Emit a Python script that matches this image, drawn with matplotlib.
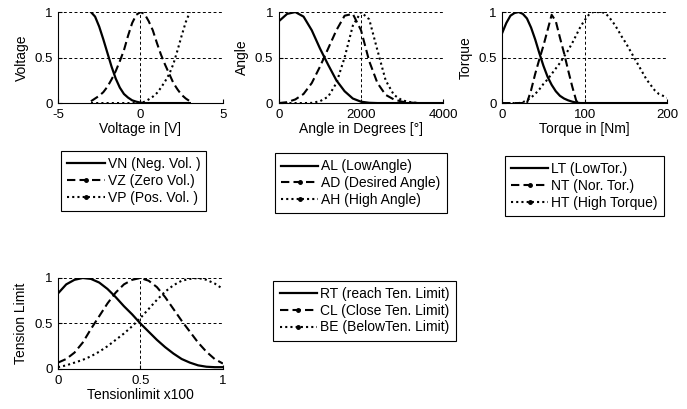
import matplotlib
matplotlib.use("Agg")
import matplotlib.pyplot as plt
from matplotlib.lines import Line2D

plt.rcParams['font.family'] = ['Liberation Sans', 'DejaVu Sans']
plt.rcParams['axes.unicode_minus'] = False

# voltage
volt_x = [-3.0, -2.75, -2.5, -2.25, -2.0, -1.75, -1.5, -1.25, -1.0, -0.75, -0.5, -0.25,
          0.0, 0.25, 0.5, 0.75, 1.0, 1.25, 1.5, 1.75, 2.0, 2.25, 2.5, 2.75, 3.0]
vn = [1.0, 0.95, 0.84, 0.70, 0.55, 0.40, 0.27, 0.17, 0.10, 0.06, 0.03, 0.015,
      0.005, 0, 0, 0, 0, 0, 0, 0, 0, 0, 0, 0, 0]
vz = [0.02, 0.05, 0.08, 0.12, 0.18, 0.26, 0.35, 0.46, 0.58, 0.74, 0.88, 0.97,
      1.0, 0.98, 0.90, 0.80, 0.66, 0.53, 0.42, 0.32, 0.22, 0.15, 0.09, 0.05, 0.02]
vp = [0, 0, 0, 0, 0, 0, 0, 0, 0, 0, 0, 0,
      0, 0.015, 0.04, 0.07, 0.11, 0.17, 0.24, 0.32, 0.43, 0.58, 0.74, 0.89, 1.0]

# angle
ang_x = [0, 200, 400, 600, 800, 1000, 1200, 1400, 1600, 1800, 2000, 2200, 2400,
         2600, 2800, 3000, 3200, 3400, 3600, 3800, 4000]
al = [0.90, 0.98, 1.0, 0.95, 0.80, 0.60, 0.42, 0.25, 0.13, 0.05, 0.015, 0.003, 0,
      0, 0, 0, 0, 0, 0, 0, 0]
ad = [0.0, 0.01, 0.04, 0.10, 0.22, 0.40, 0.60, 0.80, 0.96, 0.98, 0.80, 0.46, 0.22,
      0.09, 0.04, 0.015, 0.005, 0, 0, 0, 0]
ah = [0, 0, 0, 0, 0.002, 0.02, 0.07, 0.22, 0.50, 0.85, 1.0, 0.92, 0.58,
      0.25, 0.09, 0.03, 0.01, 0, 0, 0, 0]

# torque
torq_x = [0, 5, 10, 15, 20, 25, 30, 35, 40, 45, 50, 55, 60, 65, 70, 75, 80, 85, 90, 95,
          100, 105, 110, 115, 120, 125, 130, 135, 140, 145, 150, 155, 160, 165, 170,
          175, 180, 185, 190, 195, 200]
lt = [0.77, 0.88, 0.96, 0.99, 1.0, 0.98, 0.93, 0.83, 0.70, 0.55, 0.41, 0.29, 0.20,
      0.13, 0.08, 0.05, 0.03, 0.015, 0.005, 0,
      0, 0, 0, 0, 0, 0, 0, 0, 0, 0, 0, 0, 0, 0, 0, 0, 0, 0, 0, 0, 0]
nt = [0, 0, 0, 0, 0, 0, 0.0, 0.14, 0.32, 0.48, 0.63, 0.80, 0.97, 0.90, 0.72, 0.55,
      0.36, 0.18, 0.02, 0,
      0, 0, 0, 0, 0, 0, 0, 0, 0, 0, 0, 0, 0, 0, 0, 0, 0, 0, 0, 0, 0]
ht = [0, 0, 0, 0, 0, 0.01, 0.03, 0.06, 0.10, 0.15, 0.21, 0.26, 0.32, 0.38, 0.44, 0.51,
      0.58, 0.66, 0.75, 0.84, 0.91, 0.97, 1.0, 1.0, 1.0, 0.99, 0.94, 0.88, 0.81, 0.73,
      0.66, 0.58, 0.50, 0.42, 0.34, 0.26, 0.20, 0.14, 0.10, 0.08, 0.06]

# tension limit
ten_x = [0, 0.05, 0.1, 0.15, 0.2, 0.25, 0.3, 0.35, 0.4, 0.45, 0.5, 0.55, 0.6, 0.65,
         0.7, 0.75, 0.8, 0.85, 0.9, 0.95, 1.0]
rt = [0.83, 0.93, 0.98, 1.0, 0.99, 0.95, 0.88, 0.79, 0.69, 0.60, 0.50, 0.41, 0.32,
      0.24, 0.17, 0.11, 0.07, 0.04, 0.025, 0.02, 0.02]
cl = [0.07, 0.11, 0.18, 0.29, 0.44, 0.58, 0.72, 0.84, 0.93, 0.98, 1.0, 0.97, 0.90,
      0.79, 0.66, 0.53, 0.41, 0.29, 0.19, 0.11, 0.06]
be = [0.02, 0.04, 0.07, 0.10, 0.14, 0.19, 0.25, 0.32, 0.39, 0.47, 0.56, 0.66, 0.76,
      0.85, 0.92, 0.97, 0.99, 1.0, 0.98, 0.94, 0.88]

panels = [
    (volt_x, [vn, vz, vp], [-5, 0, 5], ['-5', '0', '5'], 'Voltage in [V]', 'Voltage',
     ['VN (Neg. Vol. )', 'VZ (Zero Vol.)', 'VP (Pos. Vol. )']),
    (ang_x, [al, ad, ah], [0, 2000, 4000], ['0', '2000', '4000'], 'Angle in Degrees [°]', 'Angle',
     ['AL (LowAngle)', 'AD (Desired Angle)', 'AH (High Angle)']),
    (torq_x, [lt, nt, ht], [0, 100, 200], ['0', '100', '200'], 'Torque in [Nm]', 'Torque',
     ['LT (LowTor.)', 'NT (Nor. Tor.)', 'HT (High Torque)']),
    (ten_x, [rt, cl, be], [0, 0.5, 1], ['0', '0.5', '1'], 'Tensionlimit x100', 'Tension Limit',
     ['RT (reach Ten. Limit)', 'CL (Close Ten. Limit)', 'BE (BelowTen. Limit)']),
]

ax_pos = [[0.0844, 0.748, 0.240, 0.2225],
          [0.406, 0.748, 0.239, 0.2225],
          [0.731, 0.748, 0.240, 0.2225],
          [0.0844, 0.0978, 0.240, 0.2225]]
leg_pos = [(0.1946, 0.558), (0.525, 0.552), (0.8506, 0.545), (0.5306, 0.2404)]

styles = [dict(ls='-', lw=1.6),
          dict(ls=(0, (4, 2)), lw=1.5),
          dict(ls=(0, (1, 1.5)), lw=1.5)]

fig = plt.figure(figsize=(6.87, 4.09), dpi=100)

for (x, ys, ticks, ticklabels, xlabel, ylabel, labels), pos, lpos in zip(panels, ax_pos, leg_pos):
    ax = fig.add_axes(pos)
    for y, st in zip(ys, styles):
        ax.plot(x, y, color='black', **st)
    ax.set_xlim(ticks[0], ticks[-1])
    ax.set_ylim(0, 1)
    ax.set_xticks(ticks)
    ax.set_xticklabels(ticklabels)
    ax.set_yticks([0, 0.5, 1])
    ax.set_yticklabels(['0', '0.5', '1'])
    ax.grid(True, color='black', ls=(0, (3, 2.5)), lw=0.7)
    ax.spines['top'].set_visible(False)
    ax.spines['right'].set_visible(False)
    ax.tick_params(direction='in', length=3, labelsize=9.5, pad=4)
    ax.set_xlabel(xlabel, fontsize=10, labelpad=1)
    ax.set_ylabel(ylabel, fontsize=10, labelpad=4)

    handles = [Line2D([], [], color='black', **styles[0]),
               Line2D([], [], color='black', marker='.', ms=5, **styles[1]),
               Line2D([], [], color='black', marker='.', ms=5, **styles[2])]
    leg = fig.legend(handles, labels, loc='center', bbox_to_anchor=lpos,
                     fontsize=10, handlelength=2.7, handletextpad=0.2,
                     labelspacing=0.2, borderpad=0.45, borderaxespad=0,
                     fancybox=False, edgecolor='black', framealpha=1)
    leg.get_frame().set_linewidth(0.8)

fig.savefig('out.png', dpi=100)
